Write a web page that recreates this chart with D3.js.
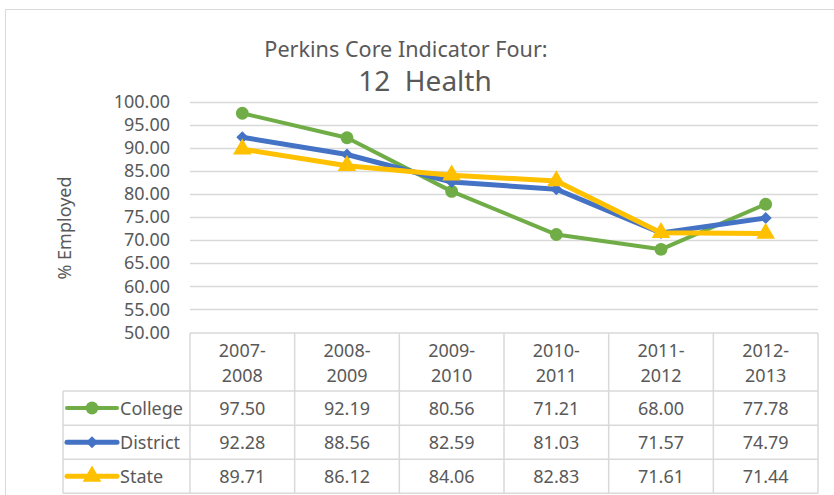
<!DOCTYPE html>
<html>
<head>
<meta charset="utf-8">
<script src="https://cdn.jsdelivr.net/npm/d3@7"></script>
<style>
  body { margin: 0; background: #fff; }
  text { font-family: "Noto Sans", "Open Sans", sans-serif; fill: #595959; }
</style>
</head>
<body>
<div id="chart"></div>
<script>
// Data
const categories = ["2007-2008", "2008-2009", "2009-2010", "2010-2011", "2011-2012", "2012-2013"];
const college = [97.50, 92.19, 80.56, 71.21, 68.00, 77.78];
const district = [92.28, 88.56, 82.59, 81.03, 71.57, 74.79];
const state = [89.71, 86.12, 84.06, 82.83, 71.61, 71.44];
const seriesNames = ["College", "District", "State"];
const yTicks = [50, 55, 60, 65, 70, 75, 80, 85, 90, 95, 100];

const W = 834, H = 495;
const plot = {left: 190, right: 818, top: 101.7, bottom: 332.4};

const svg = d3.select("#chart")
              .append("svg")
              .attr("width", W)
              .attr("height", H);

// chart border
svg.append("rect")
   .attr("x", 5.5).attr("y", 9.5)
   .attr("width", W + 10).attr("height", H + 10)
   .attr("fill", "none")
   .attr("stroke", "#d9d9d9");

// title
svg.append("text")
   .attr("x", 406).attr("y", 57)
   .attr("text-anchor", "middle")
   .style("font-size", "21.6px")
   .text("Perkins Core Indicator Four:");
svg.append("text")
   .attr("x", 425).attr("y", 91)
   .attr("text-anchor", "middle")
   .style("font-size", "28px")
   .text("12\u00a0\u00a0Health");

// scales
const x = d3.scaleBand().domain(categories).range([plot.left, plot.right]);
const y = d3.scaleLinear().domain([50, 100]).range([plot.bottom, plot.top]);

// gridlines
svg.append("g")
   .selectAll("line")
   .data(yTicks.filter(d => d > 50))
   .join("line")
   .attr("x1", plot.left).attr("x2", plot.right)
   .attr("y1", d => Math.round(y(d)) + 0.5).attr("y2", d => Math.round(y(d)) + 0.5)
   .attr("stroke", "#d9d9d9")
   .attr("stroke-width", 1.5);

// y axis labels
const yAxis = svg.append("g")
   .attr("transform", `translate(${plot.left},0)`)
   .call(d3.axisLeft(y).tickValues(yTicks).tickFormat(d3.format(".2f")).tickSize(0).tickPadding(20));
yAxis.select(".domain").remove();
yAxis.selectAll("text")
     .style("font-size", "18px")
     .style("font-family", "\"Noto Sans\", sans-serif")
     .attr("fill", "#595959");

// y axis title
svg.append("text")
   .attr("transform", "translate(71,228) rotate(-90)")
   .attr("text-anchor", "middle")
   .style("font-size", "18px")
   .text("% Employed");

// series
const colors = ["#70ad47", "#4472c4", "#ffc000"];
const widths = [4, 5, 5];
const symbols = [d3.symbolCircle, d3.symbolSquare, d3.symbolTriangle];
const symbolSizes = [130, 72, 150];
const rotations = [0, 45, 0];
const allSeries = [college, district, state];

const line = d3.line()
               .x((d, i) => x(categories[i]) + x.bandwidth() / 2)
               .y(d => y(d));

allSeries.forEach((vals, s) => {
  const g = svg.append("g");
  g.append("path")
   .datum(vals)
   .attr("d", line)
   .attr("fill", "none")
   .attr("stroke", colors[s])
   .attr("stroke-width", widths[s])
   .attr("stroke-linejoin", "round");
  g.selectAll("path.mk")
   .data(vals)
   .join("path")
   .attr("class", "mk")
   .attr("d", d3.symbol().type(symbols[s]).size(symbolSizes[s]))
   .attr("transform", (d, i) => `translate(${x(categories[i]) + x.bandwidth() / 2},${y(d)}) rotate(${rotations[s]})`)
   .attr("fill", colors[s]);
});

// data table
const rowTop = [391, 425.3, 459.3];
const rowH = 34;
const headTop = 333;
const legendLeft = 63;
const tbl = svg.append("g").attr("stroke", "#d9d9d9").attr("stroke-width", 1.5);

// horizontal lines
tbl.append("line").attr("x1", plot.left).attr("x2", plot.right).attr("y1", headTop).attr("y2", headTop);
rowTop.concat([rowTop[2] + rowH]).forEach(yy => {
  tbl.append("line").attr("x1", legendLeft).attr("x2", plot.right).attr("y1", yy).attr("y2", yy);
});
// vertical lines
tbl.append("line").attr("x1", legendLeft).attr("x2", legendLeft).attr("y1", rowTop[0]).attr("y2", rowTop[2] + rowH);
categories.forEach(c => {
  tbl.append("line").attr("x1", x(c)).attr("x2", x(c)).attr("y1", headTop).attr("y2", rowTop[2] + rowH);
});
tbl.append("line").attr("x1", plot.right).attr("x2", plot.right).attr("y1", headTop).attr("y2", rowTop[2] + rowH);

// header labels
categories.forEach(c => {
  const parts = c.split("-");
  const cx = x(c) + x.bandwidth() / 2;
  svg.append("text").attr("x", cx).attr("y", 357).attr("text-anchor", "middle")
     .style("font-size", "18px").text(parts[0] + "-");
  svg.append("text").attr("x", cx).attr("y", 382).attr("text-anchor", "middle")
     .style("font-size", "18px").text(parts[1]);
});

// rows
allSeries.forEach((vals, s) => {
  const cy = rowTop[s] + rowH / 2;
  svg.append("line")
     .attr("x1", 67).attr("x2", 117).attr("y1", cy).attr("y2", cy)
     .attr("stroke", colors[s]).attr("stroke-width", widths[s]).attr("stroke-linecap", "round");
  svg.append("path")
     .attr("d", d3.symbol().type(symbols[s]).size(symbolSizes[s]))
     .attr("transform", `translate(92,${cy}) rotate(${rotations[s]})`)
     .attr("fill", colors[s]);
  svg.append("text").attr("x", 120).attr("y", cy + 6.5)
     .style("font-size", "18px").text(seriesNames[s]);
  vals.forEach((v, i) => {
    svg.append("text")
       .attr("x", x(categories[i]) + x.bandwidth() / 2)
       .attr("y", cy + 6.5)
       .attr("text-anchor", "middle")
       .style("font-size", "18px")
       .text(d3.format(".2f")(v));
  });
});
</script>
</body>
</html>
